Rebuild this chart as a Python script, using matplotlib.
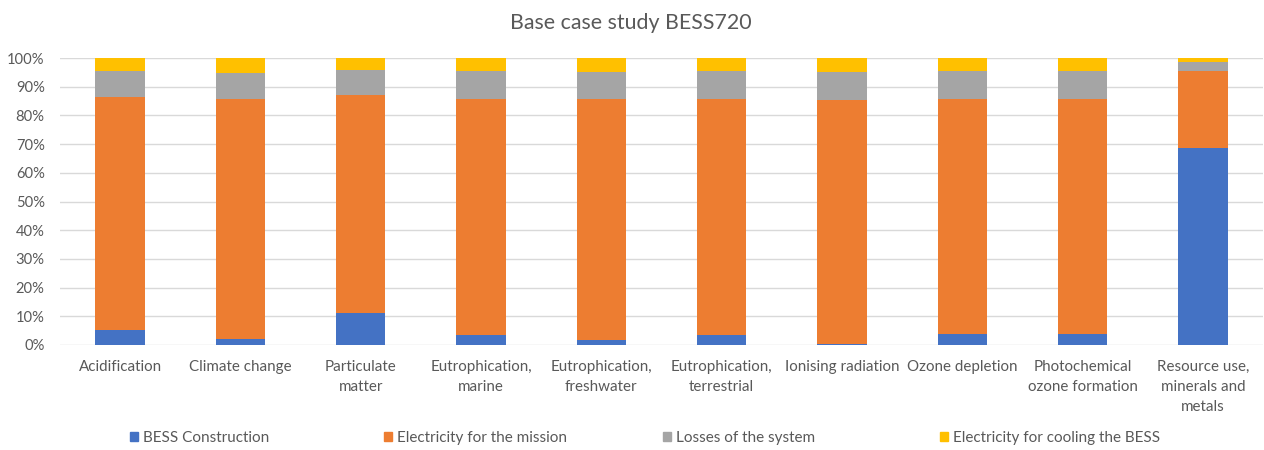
import matplotlib
matplotlib.use("Agg")
import matplotlib.pyplot as plt
import matplotlib.patches as mpatches
import numpy as np

plt.rcParams['font.family'] = ['Lato', 'DejaVu Sans']

categories = [
    "Acidification", "Climate change", "Particulate\nmatter",
    "Eutrophication,\nmarine", "Eutrophication,\nfreshwater",
    "Eutrophication,\nterrestrial", "Ionising radiation", "Ozone depletion",
    "Photochemical\nozone formation", "Resource use,\nminerals and\nmetals",
]
series_names = ["BESS Construction", "Electricity for the mission",
                "Losses of the system", "Electricity for cooling the BESS"]

bess_construction = [5.3, 2.0, 11.0, 3.5, 1.6, 3.6, 0.4, 4.0, 4.0, 68.8]
electricity_mission = [81.1, 83.8, 76.0, 82.3, 84.2, 82.2, 85.1, 81.8, 81.8, 26.5]
losses_system = [8.9, 9.1, 8.7, 9.5, 9.2, 9.7, 9.5, 9.7, 9.7, 3.2]
electricity_cooling = [4.7, 5.1, 4.3, 4.7, 5.0, 4.5, 5.0, 4.5, 4.5, 1.5]

colors = ["#4472C4", "#ED7D31", "#A5A5A5", "#FFC000"]
text_color = "#595959"

data = np.array([bess_construction, electricity_mission, losses_system, electricity_cooling])
shares = data / data.sum(axis=0)

W, H = 1264, 450
fig = plt.figure(figsize=(W / 100, H / 100), dpi=100)
ax = fig.add_axes([60 / W, 1 - 345 / H, (1263 - 60) / W, (345 - 58) / H])

x = np.arange(len(categories))
bottom = np.zeros(len(categories))
for name, vals, c in zip(series_names, shares, colors):
    ax.bar(x, vals, 0.41, bottom=bottom, color=c, label=name, zorder=3)
    bottom += vals

ax.set_xlim(-0.5, len(categories) - 0.5)
ax.set_ylim(0, 1)
ticks = np.linspace(0, 1, 11)
ax.set_yticks(ticks)
ax.set_yticklabels([f"{int(round(v * 100))}%" for v in ticks], fontsize=10.6)
ax.set_xticks(x)
ax.set_xticklabels(categories, linespacing=1.55, fontsize=10.9)
ax.tick_params(axis='both', length=0, colors=text_color)
ax.tick_params(axis='y', pad=11)
ax.tick_params(axis='x', pad=11)
for sp in ax.spines.values():
    sp.set_visible(False)
ax.yaxis.grid(True, color="#D9D9D9", linewidth=1, zorder=0)
ax.set_axisbelow(True)

fig.text(631 / W, 1 - 23 / H, "Base case study BESS720", ha='center', va='center',
         fontsize=15.4, color=text_color)

legend_x = [130, 384, 663, 940]
for name, c, lx in zip(series_names, colors, legend_x):
    patch = mpatches.Patch(color=c, label=name)
    leg = fig.legend(handles=[patch], loc='center left',
                     bbox_to_anchor=(lx / W, 1 - 438 / H), frameon=False,
                     handlelength=0.5, handleheight=0.5, handletextpad=0.35,
                     borderpad=0, borderaxespad=0, fontsize=11)
    for t in leg.get_texts():
        t.set_color(text_color)

fig.savefig("out.png", dpi=100, facecolor="white")
